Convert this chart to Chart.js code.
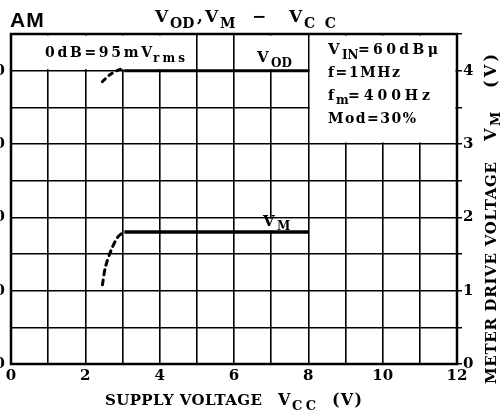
<!DOCTYPE html>
<html>
<head>
<meta charset="utf-8">
<script src="https://cdn.jsdelivr.net/npm/chart.js@4"></script>
<style>
  html, body { margin: 0; padding: 0; background: #fff; overflow: hidden; }
  #wrap { width: 501px; height: 414px; }
</style>
</head>
<body>
<div id="wrap"><canvas id="chartAM" width="501" height="414"></canvas></div>
<script>
// ===== data =====
const xTicks = [0, 2, 4, 6, 8, 10, 12];          // Vcc (V)
const leftTicks = [0, -10, -20, -30, -40];       // Vod (dB), only last digit shows
const rightTicks = [0, 1, 2, 3, 4];              // Vm (V)

// Vod, rising part (dotted) and flat part
const vodRiseVcc = [2.46, 2.65, 2.87, 3.03];
const vodRiseDb = [-1.5, -0.6, 0.05, 0.3];
const vodFlatVcc = [3.05, 8];
const vodFlatDb = [0, 0];

// Vm, rising part (dotted) and flat part
const vmRiseVcc = [2.46, 2.54, 2.7, 2.87, 3.0];
const vmRiseV = [1.08, 1.32, 1.56, 1.73, 1.79];
const vmFlatVcc = [3.05, 8];
const vmFlatV = [1.8, 1.8];

const SERIF = '"DejaVu Serif", "Liberation Serif", serif';

function pts(xs, ys) {
    return xs.map((x, i) => ({ x: x, y: ys[i] }));
}

// one piece of text, optionally stretched to a width with letter spacing
function seg(ctx, text, x, y, size, width) {
    ctx.font = 'bold ' + size + 'px ' + SERIF;
    ctx.letterSpacing = '0px';
    if (width && text.length > 1) {
        const nat = ctx.measureText(text).width;
        ctx.letterSpacing = Math.max(0, (width - nat) / (text.length - 1)) + 'px';
    }
    ctx.fillText(text, x, y);
    ctx.letterSpacing = '0px';
}

// blank cells where the labels sit (the grid is cut there)
const blankPlugin = {
    id: 'blank',
    beforeDatasetsDraw(chart) {
        const ctx = chart.ctx;
        const x = chart.scales.x, y = chart.scales.y, y2 = chart.scales.y2;
        ctx.save();
        ctx.fillStyle = '#fff';
        function box(x0, x1, top, bot) {
            ctx.fillRect(x0 + 1.5, top + 1.5, x1 - x0 - 3, bot - top - 3);
        }
        box(x.getPixelForValue(0), x.getPixelForValue(5), y.getPixelForValue(5), y.getPixelForValue(0));
        box(x.getPixelForValue(6), x.getPixelForValue(8), y.getPixelForValue(5), y.getPixelForValue(0));
        box(x.getPixelForValue(8), x.getPixelForValue(12), y.getPixelForValue(5), y.getPixelForValue(-10));
        box(x.getPixelForValue(7), x.getPixelForValue(8), y2.getPixelForValue(2.5), y2.getPixelForValue(2.0));
        box(x.getPixelForValue(6), x.getPixelForValue(8), y2.getPixelForValue(2.0), y2.getPixelForValue(1.8));
        ctx.restore();
    },
    afterDraw(chart) {
        const ctx = chart.ctx;
        const a = chart.chartArea;
        ctx.save();
        ctx.strokeStyle = '#000';
        ctx.lineWidth = 2.5;
        ctx.strokeRect(a.left, a.top, a.right - a.left, a.bottom - a.top);

        ctx.fillStyle = '#000';
        ctx.textBaseline = 'alphabetic';
        ctx.textAlign = 'left';

        ctx.font = 'bold 21px "Liberation Sans", Arial, sans-serif';
        ctx.letterSpacing = '1px';
        ctx.fillText('AM', 10, 27);
        ctx.letterSpacing = '0px';

        // title
        seg(ctx, 'V', 155, 22, 17);
        seg(ctx, 'OD', 170, 28, 14, 22);
        seg(ctx, ',', 197, 22, 17);
        seg(ctx, 'V', 205, 22, 17);
        seg(ctx, 'M', 220, 28, 14);
        seg(ctx, '−', 252, 22, 17);
        seg(ctx, 'V', 289, 22, 17);
        seg(ctx, 'CC', 304, 28, 14, 32);

        // notes in the grid
        seg(ctx, '0dB=95mV', 45, 57, 14, 107);
        seg(ctx, 'rms', 153, 62, 12, 32);
        seg(ctx, 'V', 257, 62, 15);
        seg(ctx, 'OD', 271, 67, 12, 21);
        seg(ctx, 'V', 328, 54, 15);
        seg(ctx, 'IN', 342, 59, 12, 14);
        seg(ctx, '=60dBμ', 358, 54, 14, 80);
        seg(ctx, 'f=1MHz', 328, 77, 14, 72);
        seg(ctx, 'f', 328, 100, 14);
        seg(ctx, 'm', 336, 104, 12);
        seg(ctx, '=400Hz', 348, 100, 14, 82);
        seg(ctx, 'Mod=30%', 328, 123, 14, 88);
        seg(ctx, 'V', 263, 226, 15);
        seg(ctx, 'M', 277, 230, 12);

        // axis titles
        seg(ctx, 'SUPPLY VOLTAGE', 105, 405, 15, 157);
        seg(ctx, 'V', 278, 405, 16);
        seg(ctx, 'CC', 292, 410, 13, 24);
        seg(ctx, '(V)', 332, 405, 16, 30);

        ctx.translate(496, 0);
        ctx.rotate(-Math.PI / 2);
        seg(ctx, 'METER DRIVE VOLTAGE', -384, 0, 15, 222);
        seg(ctx, 'V', -141, 0, 16);
        seg(ctx, 'M', -126, 4, 13);
        seg(ctx, '(V)', -88, 0, 16, 34);
        ctx.restore();
    }
};

document.addEventListener("DOMContentLoaded", function () {
    const ctx = document.getElementById('chartAM');
    const tickFont = { family: SERIF, size: 15, weight: 'bold' };

    new Chart(ctx, {
        type: 'line',
        data: {
            datasets: [
                {
                    data: pts(vodRiseVcc, vodRiseDb), yAxisID: 'y',
                    borderColor: '#000', borderWidth: 3, borderDash: [4, 5], borderCapStyle: 'round',
                    pointRadius: 0, tension: 0.3
                },
                {
                    data: pts(vodFlatVcc, vodFlatDb), yAxisID: 'y',
                    borderColor: '#000', borderWidth: 3, pointRadius: 0
                },
                {
                    data: pts(vmRiseVcc, vmRiseV), yAxisID: 'y2',
                    borderColor: '#000', borderWidth: 3, borderDash: [5, 5], borderCapStyle: 'round',
                    pointRadius: 0, tension: 0.3
                },
                {
                    data: pts(vmFlatVcc, vmFlatV), yAxisID: 'y2',
                    borderColor: '#000', borderWidth: 3.5, pointRadius: 0
                }
            ]
        },
        options: {
            responsive: false,
            animation: false,
            events: [],
            layout: { padding: { top: 34, left: 0, right: 0, bottom: 0 } },
            plugins: {
                legend: { display: false },
                tooltip: { enabled: false }
            },
            scales: {
                x: {
                    type: 'linear', min: 0, max: 12,
                    afterFit: s => { s.height = 50; },
                    border: { display: false },
                    grid: { color: '#000', lineWidth: 1.6, drawTicks: false },
                    ticks: {
                        stepSize: 1, padding: 3, color: '#000', font: tickFont, maxRotation: 0,
                        autoSkip: false,
                        callback: v => xTicks.includes(v) ? String(v) : ''
                    }
                },
                y: {
                    type: 'linear', position: 'left', min: -40, max: 5,
                    afterFit: s => { s.width = 11; },
                    border: { display: false },
                    grid: { color: '#000', lineWidth: 1.6, drawTicks: false },
                    ticks: {
                        stepSize: 5, padding: 6, color: '#000', font: tickFont,
                        autoSkip: false,
                        callback: v => leftTicks.includes(v) ? String(v) : ''
                    }
                },
                y2: {
                    type: 'linear', position: 'right', min: 0, max: 4.5,
                    afterFit: s => { s.width = 44; },
                    border: { display: false },
                    grid: { drawOnChartArea: false, color: '#000', lineWidth: 1.5, tickLength: 5 },
                    ticks: {
                        stepSize: 0.5, padding: 1, color: '#000', font: tickFont,
                        autoSkip: false,
                        callback: v => rightTicks.includes(v) ? String(v) : ''
                    }
                }
            }
        },
        plugins: [blankPlugin]
    });
});
</script>
</body>
</html>
